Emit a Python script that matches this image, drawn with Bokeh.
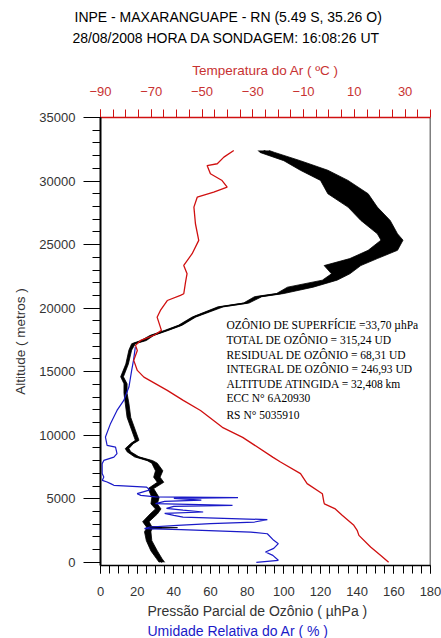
from bokeh.plotting import figure
from bokeh.models import Range1d, LinearAxis, FixedTicker, Label, ColumnDataSource, Span, Title
from bokeh.embed import file_html
from bokeh.resources import INLINE

# ---------------- data ----------------
# Ozone partial pressure (uhPa): altitude (m), lower and upper edge of the noisy trace
oz_alt = [0, 300, 900, 1700, 2400, 2650, 2730, 2800, 3200, 3800, 4200, 4600, 5100, 5800,
          6300, 6700, 7200, 7800, 8000, 8300, 8700, 8950, 9350, 9600, 10400, 11400, 12500,
          13300, 14050, 14600, 15600, 16700, 17200, 17450, 17850, 18250, 18650, 19300,
          20100, 20400, 20900, 21150, 21650, 22200, 22700, 23350, 23900, 24550, 25350,
          25850, 26900, 27950, 29000, 30050, 30850, 31600, 32250, 32400]
oz_lo = [32, 30.5, 27.5, 25, 24, 25, 25, 25, 23, 27, 30, 27.5, 28, 26,
         31, 29, 30, 28, 25.5, 18.5, 14.5, 13.5, 16.5, 19, 17, 14.5, 13.5,
         12.8, 12.8, 11, 13.8, 15.5, 17, 22, 27, 35, 42.5, 50,
         64, 78, 84, 96, 102, 121, 126, 122, 136, 146, 153,
         151, 142, 135, 124, 120, 109, 100, 87, 86]
oz_hi = [35, 33.5, 31, 28, 27.5, 28, 42, 28, 26.5, 31, 33, 31, 32, 29,
         34.5, 32.5, 34, 31, 28.5, 21, 16.5, 15.5, 18, 21, 19, 16.5, 15.5,
         14.5, 14.5, 12.5, 15.2, 17, 19, 25, 29, 37, 44.5, 52,
         67, 81, 88, 100, 116, 129, 136, 142, 151, 162, 165,
         162, 158, 151, 146, 135, 124, 109, 95, 92]

# Relative humidity (%)
rh_alt = [16930, 15890, 15100, 13790, 12740, 11950, 10930, 9860, 9200, 9070, 8550, 8280,
          8020, 7760, 6980, 6710, 6450, 6320, 6190, 6060, 5920, 5700, 5400, 5270, 5150,
          5090, 5030, 4900, 4800, 4620, 4480, 4400, 4250, 4100, 3960, 3850, 3700, 3560,
          3360, 3170, 3050, 2910, 2780, 2650, 2570, 2380, 2250, 1730, 1470, 1100, 810,
          550, 160, 0]
rh_val = [19, 18, 17, 15.5, 12.7, 9, 5.5, 2.7, 3.6, 8.2, 9, 7.3,
          1.8, 0.9, 0.9, 1.8, 1, 3.6, 5.5, 7.3, 25, 27, 20, 22, 30,
          75, 40, 55, 35, 30, 72, 40, 36, 45, 56, 35, 40, 45,
          91, 84, 60, 42, 27, 24, 44, 82, 91, 94.5, 97, 94.5, 90,
          94, 97, 85]

# Air temperature (deg C)
t_alt = [0, 550, 1200, 2120, 2520, 2910, 3700, 4200, 4600, 4740, 5400, 6190, 6980, 7890,
         8260, 9830, 10620, 11400, 11950, 12740, 13530, 14570, 15100, 15890, 16670, 17070,
         17460, 17850, 18250, 19290, 19820, 20600, 21000, 21130, 22050, 22710, 23360,
         24280, 25330, 26640, 27950, 28730, 29130, 29520, 30040, 30570, 31220, 31360,
         31880, 32400]
t_val = [23.5, 20.3, 16.4, 11.8, 11.1, 9.8, 5.2, 2.5, -1.8, -2.0, -2.6, -8.6, -11.2, -19.1,
         -22, -34, -42, -47, -50.6, -57.4, -63.7, -72.9, -75.5, -76.9, -75.5, -76.2,
         -74.2, -69, -66, -67.7, -66.4, -63.7, -58.5, -57.2, -56.5, -55.9, -57.2,
         -53.9, -51.3, -52.6, -53.2, -51.9, -45.4, -40.1, -42.1, -46.7, -48, -44,
         -41.4, -37.5]

oz_ticks = [0, 20, 40, 60, 80, 100, 120, 140, 160, 180]
t_ticks = [-90, -70, -50, -30, -10, 10, 30]
alt_ticks = [0, 5000, 10000, 15000, 20000, 25000, 30000, 35000]

notes = ["OZÔNIO DE SUPERFÍCIE =33,70 µhPa",
         "TOTAL DE OZÔNIO = 315,24 UD",
         "RESIDUAL DE OZÔNIO = 68,31 UD",
         "INTEGRAL DE OZÔNIO = 246,93 UD",
         "ALTITUDE ATINGIDA = 32,408 km",
         "ECC N° 6A20930",
         "RS N° 5035910"]
note_alt = [18634, 17454, 16313, 15172, 14031, 12891, 11553]

title1 = "INPE - MAXARANGUAPE - RN (5.49 S, 35.26 O)"
title2 = "28/08/2008 HORA DA SONDAGEM: 16:08:26 UT"
temp_label = "Temperatura do Ar ( ºC )"
oz_label = "Pressão Parcial de Ozônio ( µhPa )"
rh_label = "Umidade Relativa do Ar ( % )"

# ---------------- figure ----------------
FONT = "Liberation Sans"
GREY = "#333333"
RED = "#d01010"
TRED = "#c83232"
BLUE = "#1a1ac8"

W, H = 441, 638
FL, FR, FT, FB = 100, 430, 117, 565   # frame edges in page pixels

p = figure(width=W, height=H, output_backend="svg", toolbar_location=None,
           x_range=Range1d(0, 180), y_range=Range1d(-250, 35000),
           x_axis_location=None, y_axis_location=None,
           min_border_left=FL, min_border_right=W - FR,
           min_border_top=FT, min_border_bottom=H - FB)
p.extra_x_ranges = {"temp": Range1d(-90, 40)}
p.grid.visible = False
p.outline_line_color = None
p.background_fill_color = "white"
p.border_fill_color = "white"

def style(ax, color, tick_color, lw=1):
    ax.axis_line_color = tick_color
    ax.axis_line_width = lw
    ax.major_tick_line_color = tick_color
    ax.minor_tick_line_color = tick_color
    ax.major_tick_in = 0
    ax.minor_tick_in = 0
    ax.major_label_text_font = FONT
    ax.major_label_text_font_size = "13px"
    ax.major_label_text_color = color
    ax.axis_label_text_font = FONT
    ax.axis_label_text_font_size = "13.5px"
    ax.axis_label_text_font_style = "normal"
    ax.axis_label_text_color = color

left = LinearAxis(ticker=FixedTicker(ticks=alt_ticks, minor_ticks=list(range(0, 35001, 1000))),
                  axis_label="Altitude ( metros )")
style(left, GREY, "black", 2)
left.major_tick_out = 17
left.minor_tick_out = 8
left.major_label_standoff = 8
left.axis_label_standoff = 8
p.add_layout(left, "left")

bottom = LinearAxis(ticker=FixedTicker(ticks=oz_ticks, minor_ticks=list(range(0, 181, 5))))
style(bottom, GREY, "black", 1.5)
bottom.major_tick_out = 8
bottom.minor_tick_out = 8
bottom.major_label_standoff = 13
p.add_layout(bottom, "below")

top = LinearAxis(x_range_name="temp",
                 ticker=FixedTicker(ticks=t_ticks, minor_ticks=list(range(-90, 41, 5))),
                 axis_label=temp_label)
style(top, TRED, RED, 1.5)
top.major_tick_out = 8
top.minor_tick_out = 8
top.major_label_standoff = 14
top.axis_label_standoff = 6
p.add_layout(top, "above")

p.add_layout(Span(location=180, dimension="height", line_color="black", line_width=1.5))

def title(text, offset, size, color, standoff, side):
    p.add_layout(Title(text=text, align="left", offset=offset, text_font=FONT,
                       text_font_size=size, text_font_style="normal", text_color=color,
                       standoff=standoff), side)

title(" ", 0, "1px", "white", 8, "above")          # spacing between axis label and titles
title(title2, -28, "14px", "black", 5, "above")
title(title1, -26, "14px", "black", 1, "above")
title(oz_label, 47, "14px", GREY, 4, "below")
title(rh_label, 47, "14px", BLUE, 0, "below")

# ---------------- curves ----------------
oz_src = ColumnDataSource(dict(alt=oz_alt, lo=oz_lo, hi=oz_hi,
                               mid=[(a + b) / 2 for a, b in zip(oz_lo, oz_hi)]))
p.line(x="hi", y="alt", source=oz_src, line_color="black", line_width=0.8)
p.line(x="lo", y="alt", source=oz_src, line_color="black", line_width=0.8)
p.harea(x1="lo", x2="hi", y="alt", source=oz_src, fill_color="black")
p.line(x="mid", y="alt", source=oz_src, line_color="black", line_width=1.5)

p.line(x=rh_val, y=rh_alt, line_color=BLUE, line_width=1.2)
p.line(x=t_val, y=t_alt, line_color=RED, line_width=1.3, x_range_name="temp")

for txt, a in zip(notes, note_alt):
    p.add_layout(Label(x=68.7, y=a, text=txt, text_font="Liberation Serif",
                       text_font_size="11.5px", text_color="black", text_baseline="middle"))

open("out.html", "w").write(file_html(p, INLINE))
